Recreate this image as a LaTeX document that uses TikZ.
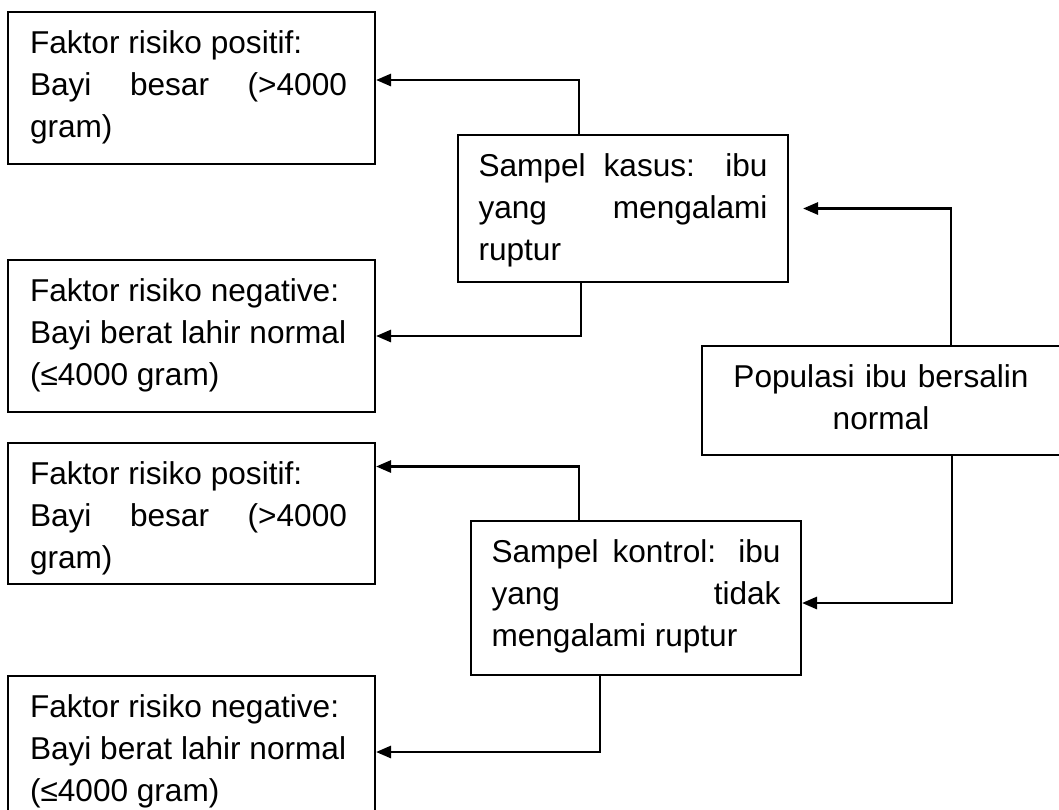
\documentclass[tikz,border=0pt]{standalone}
\usepackage{fontspec}
\setmainfont{Liberation Sans}
\usepackage{tikz}
\usetikzlibrary{calc}
\usetikzlibrary{positioning}
\usetikzlibrary{arrows.meta}
\tolerance=10000
\hyphenpenalty=10000

\begin{document}
\begin{tikzpicture}[x=1pt, y=-1pt,
		box/.style={rectangle, draw, line width=2pt, anchor=north, inner ysep=0pt, text height=41pt, align=justify, font=\fontsize{31.6}{42}\selectfont},
		faktor/.style={box, text width=323pt, inner xsep=22pt, execute at begin node={\rightskip=6pt\relax}},
		sampel/.style={box, text width=289pt, inner xsep=20.5pt},
		link/.style={line width=2.7pt, ->},
		>={Triangle[length=15pt,width=12pt]}]
				\useasboundingbox (0,0) rectangle (1059,809);
				
				\node[faktor, text depth=111pt] (posA) at (191.5,11) {Faktor risiko positif:\\ Bayi besar (>4000\linebreak gram)};
				\node[faktor, text depth=111pt] (negA) at (191.5,259) {Faktor risiko negative:\\ Bayi berat lahir normal\\ (≤4000 gram)};
				\node[faktor, text depth=100pt] (posB) at (191.5,442) {Faktor risiko positif:\\ Bayi besar (>4000\linebreak gram)};
				\node[faktor, text depth=111pt] (negB) at (191.5,675) {Faktor risiko negative:\\ Bayi berat lahir normal\\ (≤4000 gram)};
				
				\node[sampel, text depth=106pt] (kasus) at (623,134) {Sampel kasus: ibu\linebreak yang mengalami\linebreak ruptur};
				\node[sampel, text depth=113pt] (kontrol) at (636,520) {Sampel kontrol: ibu\linebreak yang tidak\linebreak mengalami ruptur};
				\node[box, align=center, text width=316pt, inner xsep=21pt, text depth=68pt] (populasi) at (881,345) {Populasi ibu bersalin\\ normal};
				
				\draw[link] ([xshift=70pt]populasi.north) |- (kasus.east) [shorten >=14pt];
				\draw[link] ([xshift=71pt]populasi.south) |- ([yshift=-5pt]kontrol.east);
				\draw[link] ([xshift=-44pt]kasus.north) |- ([yshift=8pt]posA.east);
				\draw[link] ([xshift=-42pt]kasus.south) |- (negA.east);
				\draw[link] ([xshift=-57pt]kontrol.north) |- ([yshift=47pt]posB.east);
				\draw[link] ([xshift=-36pt]kontrol.south) |- (negB.east);
			\end{tikzpicture}
\end{document}
